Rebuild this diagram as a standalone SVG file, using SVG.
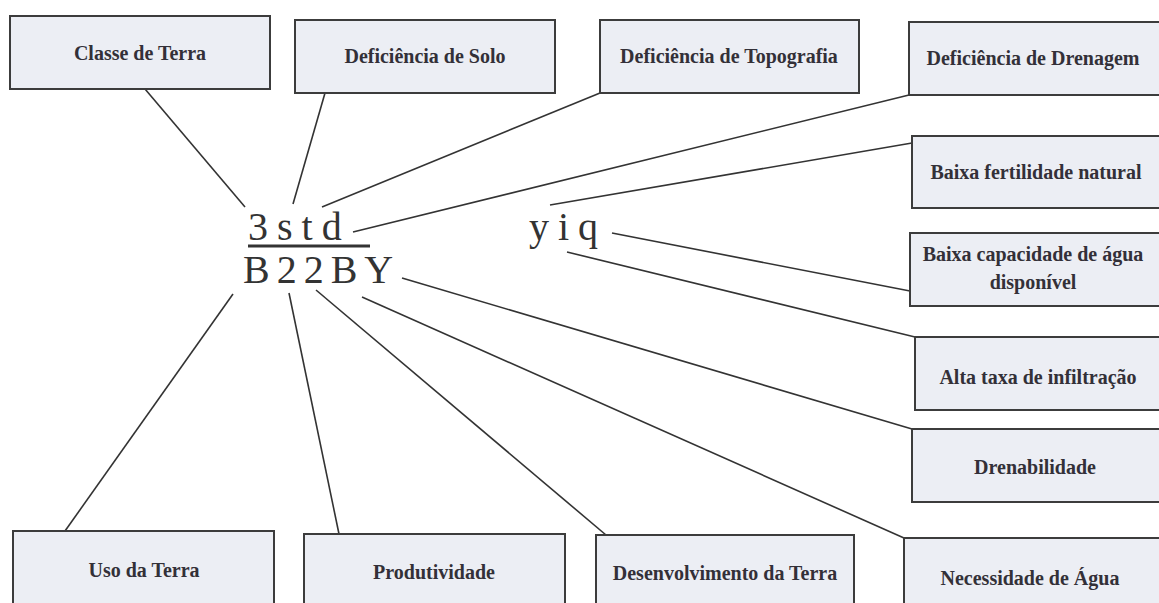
<svg xmlns="http://www.w3.org/2000/svg" width="1159" height="603" viewBox="0 0 1159 603">
<style>
.box{fill:#eceef4;stroke:#3c3c3c;stroke-width:2}
.lbl{font-family:"Liberation Serif",serif;font-weight:bold;font-size:20px;fill:#333038;text-anchor:middle}
.big{font-family:"Liberation Serif",serif;font-size:40px;fill:#333}
.con line{stroke:#333;stroke-width:1.6}
</style>
<rect width="1159" height="603" fill="#ffffff"/>
<g id="connectors" class="con">
<line x1="245" y1="207" x2="145" y2="89"/>
<line x1="293" y1="204" x2="325" y2="93"/>
<line x1="322" y1="207" x2="600" y2="93"/>
<line x1="353" y1="232" x2="909" y2="95"/>
<line x1="550" y1="205" x2="912" y2="143"/>
<line x1="612" y1="233" x2="910" y2="291"/>
<line x1="567" y1="252" x2="915" y2="337"/>
<line x1="402" y1="278" x2="912" y2="429"/>
<line x1="362" y1="297" x2="904" y2="538"/>
<line x1="316" y1="290" x2="606" y2="535"/>
<line x1="289" y1="293" x2="339" y2="534"/>
<line x1="233" y1="294" x2="65" y2="531"/>
</g>
<g id="center">
<text class="big" x="248" y="240" letter-spacing="9">3std</text>
<line x1="248" y1="246" x2="370" y2="246" stroke="#333" stroke-width="3"/>
<text class="big" x="243" y="283" font-size="37" letter-spacing="7">B22BY</text>
<text class="big" x="529" y="240" letter-spacing="9">yiq</text>
</g>
<g id="n-classe"><rect class="box" x="10" y="16" width="260" height="73"/><text class="lbl" x="140" y="60">Classe de Terra</text></g>
<g id="n-solo"><rect class="box" x="295" y="20" width="260" height="73"/><text class="lbl" x="425" y="63">Deficiência de Solo</text></g>
<g id="n-topo"><rect class="box" x="600" y="20" width="259" height="73"/><text class="lbl" x="729" y="63">Deficiência de Topografia</text></g>
<g id="n-dren"><rect class="box" x="909" y="22" width="260" height="73"/><text class="lbl" x="1033" y="65">Deficiência de Drenagem</text></g>
<g id="n-fert"><rect class="box" x="912" y="136" width="260" height="72"/><text class="lbl" x="1036" y="179">Baixa fertilidade natural</text></g>
<g id="n-cap"><rect class="box" x="910" y="233" width="260" height="73"/><text class="lbl" x="1033" y="261">Baixa capacidade de água</text><text class="lbl" x="1033" y="289">disponível</text></g>
<g id="n-alta"><rect class="box" x="915" y="337" width="260" height="73"/><text class="lbl" x="1038" y="384">Alta taxa de infiltração</text></g>
<g id="n-drenab"><rect class="box" x="912" y="429" width="260" height="73"/><text class="lbl" x="1035" y="474">Drenabilidade</text></g>
<g id="n-nec"><rect class="box" x="904" y="538" width="270" height="80"/><text class="lbl" x="1030" y="585">Necessidade de Água</text></g>
<g id="n-uso"><rect class="box" x="13" y="531" width="261" height="85"/><text class="lbl" x="144" y="577">Uso da Terra</text></g>
<g id="n-prod"><rect class="box" x="304" y="534" width="261" height="85"/><text class="lbl" x="434" y="579">Produtividade</text></g>
<g id="n-desenv"><rect class="box" x="596" y="535" width="258" height="85"/><text class="lbl" x="725" y="580">Desenvolvimento da Terra</text></g>
</svg>
